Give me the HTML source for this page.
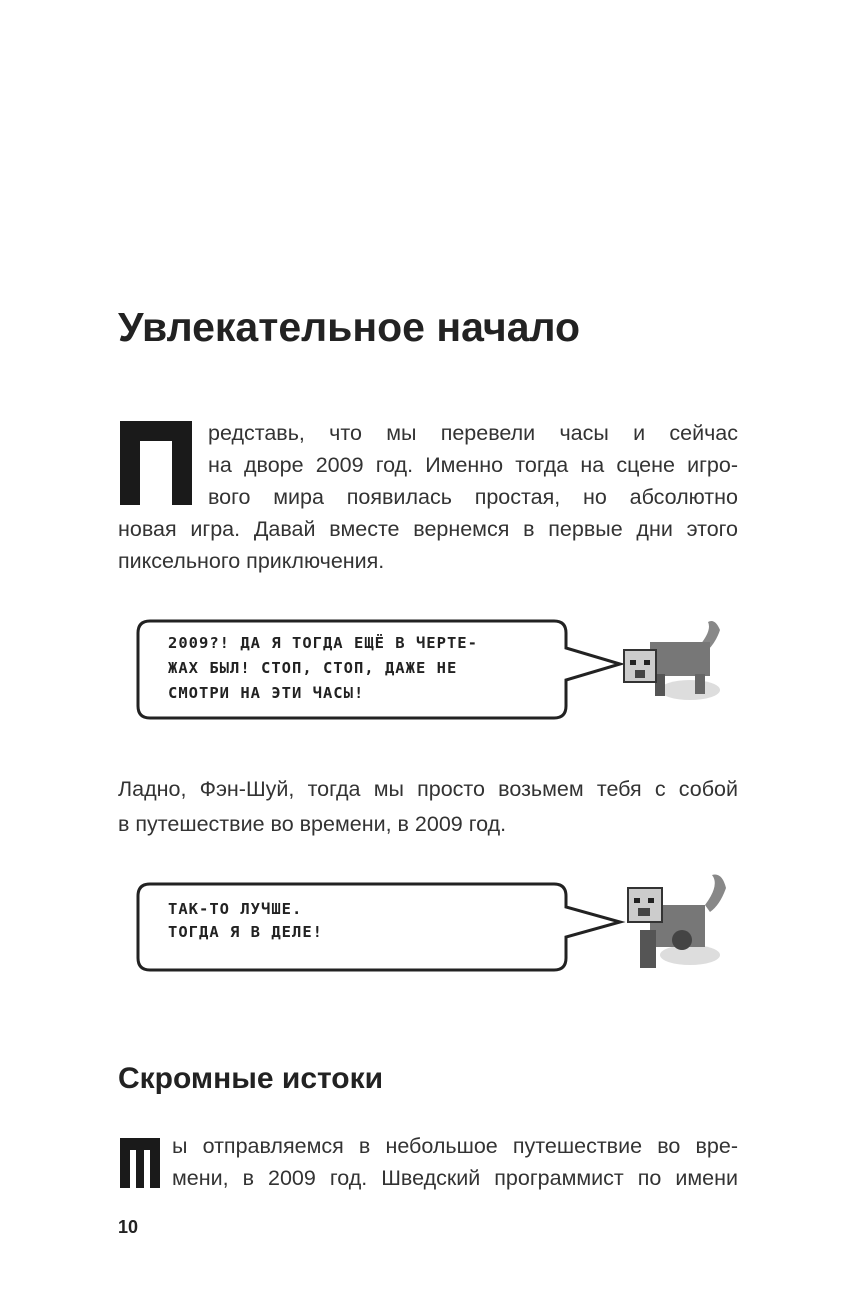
<!DOCTYPE html>
<html><head><meta charset="utf-8"><style>
body{margin:0;width:844px;height:1311px;background:#fff;position:relative;overflow:hidden;font-family:"Liberation Sans","DejaVu Sans",sans-serif;color:#222}
.a{position:absolute;white-space:nowrap}
.p{font-size:21.5px;color:#333}
.j{text-align:justify;text-align-last:justify;white-space:normal}
.m{font-family:"DejaVu Sans Mono","Liberation Mono",monospace;font-weight:bold;font-size:15.5px;letter-spacing:1px;color:#222}
</style></head><body>
<div class="a" style="left:118px;top:304px;font-size:41px;font-weight:bold;letter-spacing:0px">Увлекательное начало</div>
<div class="a" style="left:120px;top:421px;width:72px;height:84px;background:#1a1a1a"></div>
<div class="a" style="left:140px;top:441px;width:32px;height:64px;background:#fff"></div>
<div class="a p j" style="left:208px;top:421px;width:530px">редставь, что мы перевели часы и сейчас</div>
<div class="a p j" style="left:208px;top:453px;width:530px">на дворе 2009 год. Именно тогда на сцене игро-</div>
<div class="a p j" style="left:208px;top:485px;width:530px">вого мира появилась простая, но абсолютно</div>
<div class="a p j" style="left:118px;top:517px;width:620px">новая игра. Давай вместе вернемся в первые дни этого</div>
<div class="a p" style="left:118px;top:549px">пиксельного приключения.</div>

<svg class="a" style="left:0;top:0" width="844" height="1311">
<path d="M150 621 H554 Q566 621 566 633 V648 L620 664 L566 680 V706 Q566 718 554 718 H150 Q138 718 138 706 V633 Q138 621 150 621 Z" fill="#fff" stroke="#222" stroke-width="3"/>
<path d="M150 884 H554 Q566 884 566 896 V907 L620 922 L566 937 V958 Q566 970 554 970 H150 Q138 970 138 958 V896 Q138 884 150 884 Z" fill="#fff" stroke="#222" stroke-width="3"/>
<g>
<ellipse cx="690" cy="690" rx="30" ry="10" fill="#ddd"/>
<path d="M700 645 Q712 630 708 622 Q715 618 720 630 Q716 642 708 650Z" fill="#888"/>
<rect x="650" y="642" width="60" height="34" fill="#777"/>
<rect x="655" y="674" width="10" height="22" fill="#555"/>
<rect x="695" y="674" width="10" height="20" fill="#666"/>
<rect x="624" y="650" width="32" height="32" fill="#ccc" stroke="#333" stroke-width="2"/>
<rect x="630" y="660" width="6" height="5" fill="#222"/><rect x="644" y="660" width="6" height="5" fill="#222"/>
<rect x="635" y="670" width="10" height="8" fill="#444"/>
</g>
<g>
<ellipse cx="690" cy="955" rx="30" ry="10" fill="#ddd"/>
<path d="M705 905 Q720 885 712 875 Q722 872 726 888 Q720 905 710 912Z" fill="#888"/>
<rect x="650" y="905" width="55" height="42" fill="#777"/>
<circle cx="682" cy="940" r="10" fill="#444"/>
<rect x="640" y="930" width="16" height="38" fill="#555"/>
<rect x="628" y="888" width="34" height="34" fill="#ccc" stroke="#333" stroke-width="2"/>
<rect x="634" y="898" width="6" height="5" fill="#222"/><rect x="648" y="898" width="6" height="5" fill="#222"/>
<rect x="638" y="908" width="12" height="8" fill="#444"/>
</g>
</svg>

<div class="a m" style="left:168px;top:634px">2009?! ДА Я ТОГДА ЕЩЁ В ЧЕРТЕ-</div>
<div class="a m" style="left:168px;top:659px">ЖАХ БЫЛ! СТОП, СТОП, ДАЖЕ НЕ</div>
<div class="a m" style="left:168px;top:684px">СМОТРИ НА ЭТИ ЧАСЫ!</div>

<div class="a p j" style="left:118px;top:777px;width:620px">Ладно, Фэн-Шуй, тогда мы просто возьмем тебя с собой</div>
<div class="a p" style="left:118px;top:812px">в путешествие во времени, в 2009 год.</div>

<div class="a m" style="left:168px;top:900px">ТАК-ТО ЛУЧШЕ.</div>
<div class="a m" style="left:168px;top:923px">ТОГДА Я В ДЕЛЕ!</div>

<div class="a" style="left:118px;top:1062px;font-size:30px;font-weight:bold">Скромные истоки</div>
<div class="a" style="left:120px;top:1138px;width:40px;height:50px;background:#1a1a1a"></div>
<div class="a" style="left:130px;top:1150px;width:6px;height:38px;background:#fff"></div>
<div class="a" style="left:144px;top:1150px;width:6px;height:38px;background:#fff"></div>
<div class="a p j" style="left:172px;top:1134px;width:566px">ы отправляемся в небольшое путешествие во вре-</div>
<div class="a p j" style="left:172px;top:1166px;width:566px">мени, в 2009 год. Шведский программист по имени</div>
<div class="a" style="left:118px;top:1217px;font-size:18px;font-weight:bold">10</div>
</body></html>
